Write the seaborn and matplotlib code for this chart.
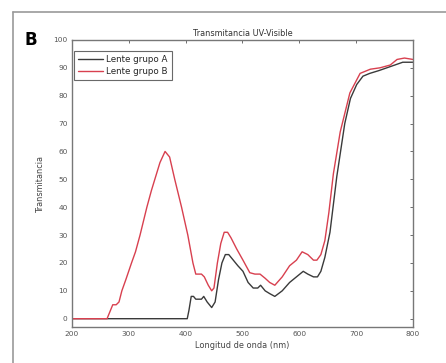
# Transmitancia UV-Visible - recreated with seaborn
import numpy as np
import pandas as pd
import matplotlib
matplotlib.use("Agg")
import matplotlib.pyplot as plt
from matplotlib.lines import Line2D
import seaborn as sns

# Data
wl_a = [200, 403, 406, 410, 414, 418, 428, 432, 438, 446, 452, 458, 464, 470, 476,
        484, 492, 501, 510, 519, 527, 532, 540, 548, 557, 570, 583, 595, 607, 615,
        625, 632, 638, 645, 654, 666, 680, 690, 701, 712, 724, 740, 754, 768, 782, 800]
trans_a = [0, 0, 3, 8, 8, 7, 7, 8, 6, 4, 6, 14, 20, 23, 23,
           21, 19, 17, 13, 11, 11, 12, 10, 9, 8, 10, 13, 15, 17, 16,
           15, 15, 17, 22, 31, 51, 70, 79, 84, 87, 88, 89, 90, 91, 92, 92]

wl_b = [200, 262, 266, 272, 278, 283, 288, 295, 305, 312, 320, 332, 340, 346, 355,
        364, 372, 381, 393, 404, 413, 418, 428, 433, 440, 446, 450, 456, 462, 468,
        474, 480, 490, 501, 513, 522, 531, 540, 548, 557, 570, 583, 595, 605, 615,
        625, 631, 638, 645, 652, 660, 672, 689, 707, 725, 742, 760, 772, 785, 800]
trans_b = [0, 0, 2, 5, 5, 6, 10, 14, 20, 24, 30, 40, 46, 50, 56,
           60, 58, 50, 40, 30, 20, 16, 16, 15, 12, 10, 11, 20, 27, 31,
           31, 29, 25, 21, 16.5, 16, 16, 14.5, 13, 12, 15, 19, 21, 24, 23,
           21, 21, 23, 28, 38, 52, 67, 81, 88, 89.5, 90, 91, 93, 93.5, 93]

labels = ["Lente grupo A", "Lente grupo B"]
x_ticks = [200, 300, 400, 500, 600, 700, 800]
y_ticks = [0, 10, 20, 30, 40, 50, 60, 70, 80, 90, 100]

df = pd.concat([
    pd.DataFrame({"wl": wl_a, "T": trans_a, "grupo": labels[0]}),
    pd.DataFrame({"wl": wl_b, "T": trans_b, "grupo": labels[1]}),
])

sns.set_style("white")
plt.rcParams['font.family'] = ['DejaVu Sans']

fig = plt.figure(figsize=(4.46, 3.63), dpi=100)
ax = fig.add_axes([0.161, 0.099, 0.765, 0.791])

colors = {labels[0]: "#3a3a3a", labels[1]: "#d8404f"}
sns.lineplot(data=df, x="wl", y="T", hue="grupo", palette=colors, sort=False,
             estimator=None, linewidth=1.0, legend=False, ax=ax)

ax.set_xlim(200, 800)
ax.set_ylim(-3, 100)
ax.set_xticks(x_ticks)
ax.set_yticks(y_ticks)
ax.tick_params(direction="in", length=2.5, width=0.6, labelsize=5.3,
               labelcolor="#555555", color="#555555",
               top=True, right=True, pad=3)
for s in ax.spines.values():
    s.set_color("#777777")
    s.set_linewidth(1.0)

ax.set_title("Transmitancia UV-Visible", fontsize=5.9, color="#333333", pad=3)
ax.set_xlabel("Longitud de onda (nm)", fontsize=5.9, color="#444444", labelpad=3)
ax.set_ylabel("Transmitancia", fontsize=5.9, color="#444444", labelpad=6)

handles = [Line2D([0], [0], color=colors[l], lw=1.0) for l in labels]
leg = ax.legend(handles, labels, loc="upper left", bbox_to_anchor=(0.006, 0.962),
                fontsize=6.3, frameon=True, fancybox=False, handlelength=2.9,
                borderpad=0.45, labelspacing=0.35, handletextpad=0.35,
                borderaxespad=0)
leg.get_frame().set_edgecolor("#444444")
leg.get_frame().set_linewidth(0.8)

# panel letter and outer frame
fig.text(0.055, 0.876, "B", fontsize=12, fontweight="bold", color="black")
fig.add_artist(Line2D([13 / 446, 1.0], [1 - 12 / 363, 1 - 12 / 363],
                      color="#999999", lw=1.2, transform=fig.transFigure))
fig.add_artist(Line2D([13 / 446, 13 / 446], [0, 1 - 12 / 363],
                      color="#999999", lw=1.2, transform=fig.transFigure))

fig.savefig("out.png", dpi=100)
